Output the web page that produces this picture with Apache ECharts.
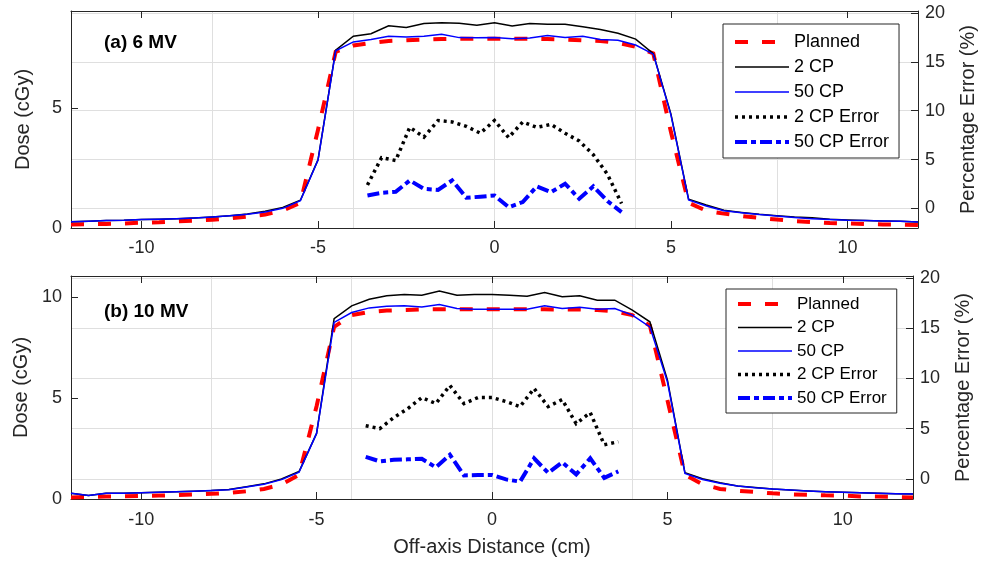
<!DOCTYPE html>
<html>
<head>
<meta charset="utf-8">
<script src="https://cdn.jsdelivr.net/npm/echarts@6/dist/echarts.min.js"></script>
<style>
  html, body { margin: 0; padding: 0; background: #fff; }
  #chart { width: 981px; height: 561px; }
</style>
</head>
<body>
<div id="chart"></div>
<script>
// off-axis positions (cm)
const doseX = [-12, -11.5, -11, -10.5, -10, -9.5, -9, -8.5, -8, -7.5, -7, -6.5, -6, -5.5,
  -5, -4.5, -4, -3.5, -3, -2.5, -2, -1.5, -1, -0.5, 0, 0.5, 1, 1.5, 2, 2.5, 3, 3.5, 4, 4.5, 5,
  5.5, 6, 6.5, 7, 7.5, 8, 8.5, 9, 9.5, 10, 10.5, 11, 11.5, 12];
const errX = [-3.6, -3.2, -2.8, -2.4, -2.0, -1.6, -1.2, -0.8, -0.4, 0, 0.4, 0.8, 1.2, 1.6, 2.0, 2.4, 2.8, 3.2, 3.6];

// (a) 6 MV
const planned6 = [0.15, 0.16, 0.17, 0.19, 0.22, 0.24, 0.28, 0.31, 0.34, 0.40, 0.48, 0.56, 0.73, 1.05,
  4.10, 7.35, 7.61, 7.72, 7.80, 7.83, 7.86, 7.88, 7.89, 7.89, 7.89, 7.89, 7.89, 7.88, 7.86, 7.83, 7.80, 7.72, 7.56, 7.28, 4.00,
  1.05, 0.72, 0.60, 0.50, 0.42, 0.35, 0.29, 0.25, 0.21, 0.19, 0.17, 0.15, 0.14, 0.13];
const cp2_6 = [0.26, 0.28, 0.31, 0.32, 0.35, 0.37, 0.39, 0.42, 0.46, 0.51, 0.58, 0.70, 0.86, 1.16,
  2.85, 7.42, 8.00, 8.10, 8.43, 8.36, 8.53, 8.56, 8.54, 8.46, 8.56, 8.42, 8.53, 8.50, 8.50, 8.39, 8.28, 8.12, 7.88, 7.27, 4.75,
  1.20, 0.96, 0.74, 0.65, 0.57, 0.51, 0.46, 0.43, 0.36, 0.33, 0.31, 0.29, 0.28, 0.25];
const cp50_6 = [0.26, 0.28, 0.31, 0.32, 0.35, 0.37, 0.39, 0.42, 0.46, 0.51, 0.57, 0.67, 0.82, 1.14,
  2.83, 7.39, 7.76, 7.86, 8.00, 7.97, 8.00, 8.08, 7.94, 7.93, 7.94, 7.89, 7.92, 8.03, 7.94, 8.00, 7.86, 7.83, 7.63, 7.25, 4.71,
  1.17, 0.92, 0.72, 0.64, 0.56, 0.50, 0.44, 0.39, 0.35, 0.32, 0.31, 0.29, 0.28, 0.25];
const err2_6 = [2.4, 5.2, 4.9, 8.3, 7.3, 9.0, 8.85, 8.4, 7.7, 9.0, 7.25, 8.85, 8.3, 8.6, 7.7, 6.9, 5.5, 3.5, 0.5];
const err50_6 = [1.33, 1.6, 1.7, 2.87, 2.0, 1.9, 2.87, 1.1, 1.2, 1.33, 0.13, 0.65, 2.26, 1.67, 2.53, 0.99, 2.26, 0.75, -0.38];

// (b) 10 MV
const planned10 = [0.08, 0.10, 0.12, 0.13, 0.15, 0.17, 0.19, 0.23, 0.26, 0.30, 0.38, 0.50, 0.72, 1.20,
  4.60, 8.53, 9.11, 9.27, 9.34, 9.36, 9.39, 9.40, 9.40, 9.40, 9.40, 9.40, 9.40, 9.40, 9.39, 9.39, 9.36, 9.30, 9.11, 8.60, 4.90,
  1.20, 0.73, 0.50, 0.41, 0.35, 0.28, 0.23, 0.21, 0.18, 0.17, 0.13, 0.12, 0.10, 0.08];
const cp2_10 = [0.28, 0.17, 0.28, 0.29, 0.31, 0.33, 0.36, 0.39, 0.42, 0.47, 0.61, 0.75, 0.99, 1.36,
  3.25, 8.94, 9.57, 9.90, 10.07, 10.13, 10.10, 10.30, 10.10, 10.13, 10.13, 10.10, 10.05, 10.23, 10.02, 10.07, 9.85, 9.85, 9.36, 8.78, 5.90,
  1.30, 1.00, 0.80, 0.65, 0.57, 0.50, 0.45, 0.40, 0.36, 0.33, 0.31, 0.28, 0.26, 0.25];
const cp50_10 = [0.28, 0.17, 0.28, 0.29, 0.31, 0.33, 0.36, 0.39, 0.42, 0.46, 0.60, 0.73, 0.96, 1.33,
  3.25, 8.75, 9.24, 9.47, 9.55, 9.57, 9.52, 9.64, 9.44, 9.40, 9.40, 9.40, 9.40, 9.57, 9.44, 9.50, 9.40, 9.44, 9.11, 8.53, 5.81,
  1.27, 0.97, 0.78, 0.64, 0.56, 0.50, 0.45, 0.40, 0.36, 0.33, 0.31, 0.28, 0.26, 0.25];
const err2_10 = [5.3, 5.0, 6.1, 7.0, 8.1, 7.5, 9.3, 7.5, 8.1, 8.1, 7.7, 7.2, 9.0, 7.2, 7.9, 5.5, 6.6, 3.4, 3.7];
const err50_10 = [2.2, 1.75, 1.9, 1.95, 2.0, 1.15, 2.4, 0.35, 0.38, 0.4, -0.05, -0.27, 2.05, 0.6, 1.65, 0.45, 2.05, 0.1, 0.75];

const xTicks = [-10, -5, 0, 5, 10];
const errTicks = [0, 5, 10, 15, 20];
const names = ['Planned', '2 CP', '50 CP', '2 CP Error', '50 CP Error'];

const FONT = 'Liberation Sans, Arial, Helvetica, sans-serif';
const AX = '#262626';
const GRIDC = '#dfdfdf';

const zip = (xs, ys) => xs.map((x, i) => [x, ys[i]]);

const styles = {
  'Planned': { color: '#ff0000', width: 4, type: [13, 14] },
  '2 CP': { color: '#000000', width: 1.5, type: 'solid' },
  '50 CP': { color: '#0000ff', width: 1.5, type: 'solid' },
  '2 CP Error': { color: '#000000', width: 3.5, type: [3, 4] },
  '50 CP Error': { color: '#0000ff', width: 4, type: [12, 4, 5, 4] }
};

function line(name, xi, yi, data) {
  const s = styles[name];
  return {
    name: name, type: 'line', xAxisIndex: xi, yAxisIndex: yi,
    data: data, symbol: 'none', showSymbol: false, animation: false,
    itemStyle: { color: s.color },
    lineStyle: { color: s.color, width: s.width, type: s.type, cap: 'butt', join: 'miter' }
  };
}

function xAxes(gi, withName, labelMargin) {
  return [
    {
      gridIndex: gi, type: 'value', min: -12, max: 12, position: 'bottom',
      name: withName ? 'Off-axis Distance (cm)' : '', nameLocation: 'middle', nameGap: 38,
      nameTextStyle: { fontSize: 20, color: AX, fontFamily: FONT },
      axisLine: { show: true, onZero: false, lineStyle: { color: AX, width: 1 } },
      axisTick: { show: true, inside: true, length: 7, customValues: xTicks, lineStyle: { color: AX } },
      axisLabel: { customValues: xTicks, fontSize: 18, color: AX, fontFamily: FONT, margin: labelMargin },
      splitLine: { show: false }
    },
    {
      gridIndex: gi, type: 'value', min: -12, max: 12, position: 'top',
      axisLine: { show: true, onZero: false, lineStyle: { color: AX, width: 1 } },
      axisTick: { show: true, inside: true, length: 7, customValues: xTicks, lineStyle: { color: AX } },
      axisLabel: { show: false },
      splitLine: { show: false }
    },
    {
      gridIndex: gi, type: 'value', min: -12, max: 12, interval: 4, position: 'bottom',
      axisLine: { show: false }, axisTick: { show: false }, axisLabel: { show: false },
      splitLine: { show: true, lineStyle: { color: GRIDC, width: 1 } }
    }
  ];
}

function yAxes(gi, doseMax, doseTicks) {
  return [
    {
      gridIndex: gi, type: 'value', min: 0, max: doseMax, position: 'left',
      name: 'Dose (cGy)', nameLocation: 'middle', nameGap: 38,
      nameTextStyle: { fontSize: 20, color: AX, fontFamily: FONT },
      axisLine: { show: true, onZero: false, lineStyle: { color: AX, width: 1 } },
      axisTick: { show: true, inside: true, length: 7, customValues: doseTicks, lineStyle: { color: AX } },
      axisLabel: { customValues: doseTicks, fontSize: 18, color: AX, fontFamily: FONT, margin: 9 },
      splitLine: { show: false }
    },
    {
      gridIndex: gi, type: 'value', min: -2, max: 20.2, position: 'right',
      name: 'Percentage Error (%)', nameLocation: 'middle', nameGap: 40,
      nameTextStyle: { fontSize: 20, color: AX, fontFamily: FONT },
      axisLine: { show: true, onZero: false, lineStyle: { color: AX, width: 1 } },
      axisTick: { show: true, inside: true, length: 7, customValues: errTicks, lineStyle: { color: AX } },
      axisLabel: { customValues: errTicks, fontSize: 18, color: AX, fontFamily: FONT, margin: 7 },
      splitLine: { show: true, lineStyle: { color: GRIDC, width: 1 } }
    }
  ];
}

function legend(left, top, fontSize, gap, pad) {
  return {
    orient: 'vertical', left: left, top: top,
    itemWidth: 54, itemHeight: 14, itemGap: gap, padding: pad,
    borderColor: AX, borderWidth: 1, backgroundColor: '#fff',
    textStyle: { fontSize: fontSize, color: '#000', fontFamily: FONT, lineHeight: 20 },
    itemStyle: { opacity: 0 },
    selectedMode: false,
    data: names.map(n => ({ name: n, lineStyle: { width: styles[n].width } }))
  };
}

const chart = echarts.init(document.getElementById('chart'), null, { renderer: 'canvas' });
chart.setOption({
  animation: false,
  backgroundColor: '#fff',
  textStyle: { fontFamily: FONT },
  title: [
    { text: '(a) 6 MV', left: 104, top: 33, padding: 0,
      textStyle: { fontSize: 19, fontWeight: 'bold', color: '#000', fontFamily: FONT } },
    { text: '(b) 10 MV', left: 104, top: 302, padding: 0,
      textStyle: { fontSize: 19, fontWeight: 'bold', color: '#000', fontFamily: FONT } }
  ],
  grid: [
    { left: 71, right: 63, top: 11, height: 217, outerBoundsMode: 'none', containLabel: false },
    { left: 71, right: 68, top: 276, height: 223, outerBoundsMode: 'none', containLabel: false }
  ],
  legend: [
    legend(723, 24, 18, 5, [8, 10, 6, 10]),
    legend(726, 289, 17, 3.5, [5, 10, 5, 10])
  ],
  xAxis: xAxes(0, false, 11).concat(xAxes(1, true, 12)),
  yAxis: yAxes(0, 9.05, [0, 5]).concat(yAxes(1, 11.05, [0, 5, 10])),
  series: [
    line('Planned', 0, 0, zip(doseX, planned6)),
    line('2 CP', 0, 0, zip(doseX, cp2_6)),
    line('50 CP', 0, 0, zip(doseX, cp50_6)),
    line('2 CP Error', 0, 1, zip(errX, err2_6)),
    line('50 CP Error', 0, 1, zip(errX, err50_6)),
    line('Planned', 3, 2, zip(doseX, planned10)),
    line('2 CP', 3, 2, zip(doseX, cp2_10)),
    line('50 CP', 3, 2, zip(doseX, cp50_10)),
    line('2 CP Error', 3, 3, zip(errX, err2_10)),
    line('50 CP Error', 3, 3, zip(errX, err50_10))
  ]
});
</script>
</body>
</html>
